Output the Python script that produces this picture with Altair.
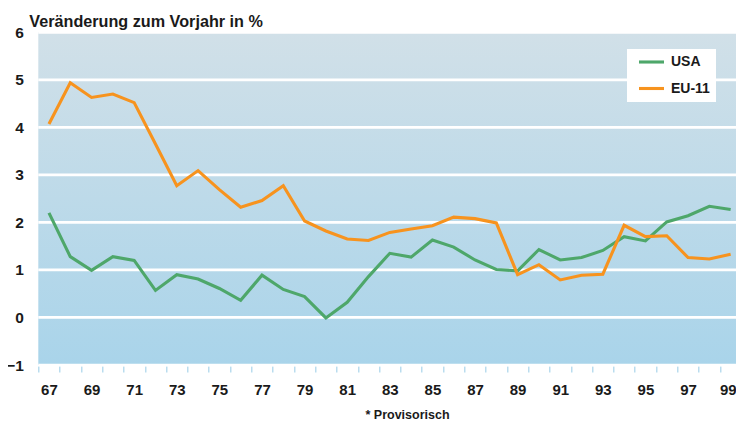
import altair as alt
import pandas as pd

years = list(range(1967, 2000))
usa = [2.20, 1.28, 0.99, 1.28, 1.20, 0.57, 0.90, 0.81, 0.61, 0.36, 0.89, 0.59, 0.44, -0.01,
       0.32, 0.86, 1.35, 1.27, 1.63, 1.48, 1.21, 1.01, 0.98, 1.43, 1.21, 1.26, 1.41, 1.70,
       1.61, 2.01, 2.14, 2.34, 2.27]
eu11 = [4.07, 4.94, 4.63, 4.70, 4.52, 3.65, 2.77, 3.09, 2.69, 2.32, 2.46, 2.77, 2.03, 1.82,
        1.65, 1.62, 1.79, 1.86, 1.93, 2.11, 2.08, 1.99, 0.90, 1.11, 0.79, 0.89, 0.91, 1.94,
        1.70, 1.72, 1.26, 1.23, 1.33]
series = ["USA", "EU-11"]
colors = ["#4ea76a", "#f7931e"]
y_ticks = [-1, 0, 1, 2, 3, 4, 5, 6]

rows = []
for name, vals in zip(series, [usa, eu11]):
    for yr, v in zip(years, vals):
        rows.append({"Jahr": yr, "Wert": v, "Serie": name})
df = pd.DataFrame(rows)

W = 703.0
H = 332.7
PAD_L = 30.3
PAD_R = 728 - PAD_L - W  # plot runs past the right edge and is clipped there

gradient = alt.LinearGradient(
    gradient="linear",
    stops=[alt.GradientStop(color="#d1e0e8", offset=0),
           alt.GradientStop(color="#a9d4ea", offset=1)],
    x1=0, x2=0, y1=0, y2=1,
)

label_expr = ("datum.value % 2 == 1 ? (datum.value == 1999 ? '99*' : "
              "substring(toString(datum.value), 2, 4)) : ''")

y_scale = alt.Scale(domain=[-1, 6], nice=False, zero=False)

background = alt.Chart(pd.DataFrame({"k": [0]})).mark_rect(fill=gradient).encode(
    x=alt.value(0), x2=alt.value(W), y=alt.value(0), y2=alt.value(H)
)

grid = alt.Chart(pd.DataFrame({"Wert": y_ticks})).mark_rule(
    color="#ffffff", strokeWidth=2.7
).encode(y=alt.Y("Wert:Q", scale=y_scale))

lines = alt.Chart(df).mark_line(strokeWidth=3.1, strokeJoin="miter").encode(
    x=alt.X("Jahr:O",
            bandPosition=0.5,
            scale=alt.Scale(type="band", paddingInner=0, paddingOuter=0),
            axis=alt.Axis(title="* Provisorisch", titleX=368.7, titleY=48,
                          titleBaseline="middle", titleFontSize=12.5,
                          titleFont="Liberation Sans", titleFontWeight="bold",
                          titleColor="#1a1a1a",
                          labelExpr=label_expr, labelAngle=0,
                          labelFont="Liberation Sans", labelFontWeight="bold",
                          labelFontSize=15, labelColor="#1a1a1a",
                          labelPadding=10, tickBand="extent", tickSize=6,
                          tickColor="#a9d4ea", tickWidth=1.2, domain=False,
                          grid=False, offset=1)),
    y=alt.Y("Wert:Q",
            scale=y_scale,
            axis=alt.Axis(title=None, values=y_ticks, format="d",
                          labelFont="Liberation Sans", labelFontWeight="bold",
                          labelFontSize=15.5, labelColor="#1a1a1a",
                          ticks=False, tickSize=0, labelPadding=15,
                          domain=False, grid=False)),
    color=alt.Color("Serie:N",
                    scale=alt.Scale(domain=series, range=colors),
                    sort=series,
                    legend=alt.Legend(title=None, orient="none", legendX=588.7,
                                      legendY=16.7, fillColor="#ffffff",
                                      padding=6, symbolType="M-1,0H4",
                                      symbolSize=100, symbolStrokeWidth=3.1,
                                      symbolOffset=4,
                                      labelFont="Liberation Sans",
                                      labelFontWeight="bold", labelFontSize=14,
                                      labelColor="#1a1a1a", rowPadding=12.5,
                                      labelOffset=20)),
)

chart = alt.layer(background, grid, lines).properties(
    width=W,
    height=H,
    title=alt.TitleParams("Veränderung zum Vorjahr in %", anchor="start",
                          frame="group", dx=-9, dy=5, offset=0,
                          font="Liberation Sans", fontWeight="bold",
                          fontSize=16.2, color="#1a1a1a"),
    autosize=alt.AutoSizeParams(type="none"),
    padding={"left": PAD_L, "top": 24.3, "right": PAD_R, "bottom": 58},
).configure_view(stroke=None)

chart.save("out.html", embed_options={"renderer": "svg", "actions": False})
